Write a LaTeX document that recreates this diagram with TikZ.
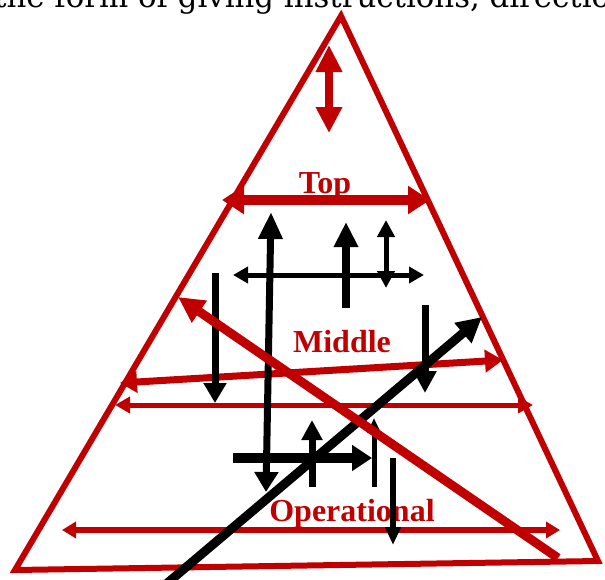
\documentclass[tikz,border=0pt]{standalone}
\usepackage{fontspec}
\newfontfamily\tnr{Liberation Serif}
\newfontfamily\hdrfont{DejaVu Serif}
\usetikzlibrary{arrows.meta}
\definecolor{pyr}{HTML}{C00000}
\tikzset{
  redline/.style={draw=pyr},
  blkline/.style={draw=black},
  lbl/.style={text=pyr, font=\tnr\bfseries\fontsize{32}{32}\selectfont, inner sep=0pt, anchor=base},
}
\newlength\hdrw
\begin{document}
\settowidth\hdrw{\hdrfont\fontsize{30}{30}\selectfont the form of giving instructions, directio}
\begin{tikzpicture}[x=1pt,y=-1pt]
\useasboundingbox (0,0) rectangle (605,579);
\clip (0,0) rectangle (605,579);
% header text
\pgfmathsetmacro\hs{616/\hdrw}
\node[anchor=base west, inner sep=0pt, scale=\hs, font=\hdrfont\fontsize{30}{30}\selectfont] (hdr) at (-6,7) {the form of giving instructions, directions};
% triangle
\coordinate (apex) at (341,16);
\coordinate (bl) at (15,570);
\coordinate (br) at (598,561);
\draw[redline, line width=6pt, line join=miter] (apex) -- (br) -- (bl) -- cycle;
% red arrows
\coordinate (r1a) at (329,45); \coordinate (r1b) at (329,133);
\draw[redline, line width=8pt, {Triangle[length=27pt,width=25pt]}-{Triangle[length=26pt,width=25pt]}] (r1a) -- (r1b);
\coordinate (r2a) at (222,200); \coordinate (r2b) at (430,200);
\draw[redline, line width=10pt, {Triangle[length=22pt,width=27pt]}-{Triangle[length=22pt,width=27pt]}] (r2a) -- (r2b);
\coordinate (r3a) at (120,383); \coordinate (r3b) at (503,360);
\draw[redline, line width=7pt, {Triangle[length=17pt,width=21pt]}-{Triangle[length=18pt,width=22pt]}] (r3a) -- (r3b);
\coordinate (r4a) at (115,405); \coordinate (r4b) at (533,405);
\draw[redline, line width=5pt, {Triangle[length=15pt,width=16pt]}-{Triangle[length=15pt,width=16pt]}] (r4a) -- (r4b);
\coordinate (r6a) at (62,530); \coordinate (r6b) at (560,530);
\draw[redline, line width=6pt, {Triangle[length=14pt,width=16pt]}-{Triangle[length=14pt,width=16pt]}] (r6a) -- (r6b);
% labels
\node[lbl] (top) at (325,193) {Top};
\node[lbl] (mid) at (342,352) {Middle};
\node[lbl] (ops) at (352,521) {Operational};
% black arrows
\coordinate (b1a) at (271,212); \coordinate (b1b) at (266,492);
\draw[blkline, line width=7pt, {Triangle[length=27pt,width=23pt]}-{Triangle[length=20pt,width=23pt]}] (b1a) -- (b1b);
\coordinate (b2a) at (233,275); \coordinate (b2b) at (424,275);
\draw[blkline, line width=5pt, {Triangle[length=15pt,width=16pt]}-{Triangle[length=15pt,width=16pt]}] (b2a) -- (b2b);
\coordinate (b3a) at (346,308); \coordinate (b3b) at (346,222);
\draw[blkline, line width=8pt, -{Triangle[length=25pt,width=23pt]}] (b3a) -- (b3b);
\coordinate (b4a) at (386,220); \coordinate (b4b) at (386,288);
\draw[blkline, line width=5pt, {Triangle[length=17pt,width=17pt]}-{Triangle[length=17pt,width=17pt]}] (b4a) -- (b4b);
\coordinate (b5a) at (215,273); \coordinate (b5b) at (215,403);
\draw[blkline, line width=7pt, -{Triangle[length=20pt,width=22pt]}] (b5a) -- (b5b);
\coordinate (b6a) at (425,305); \coordinate (b6b) at (425,393);
\draw[blkline, line width=7pt, -{Triangle[length=22pt,width=22pt]}] (b6a) -- (b6b);
\coordinate (b8a) at (233,458); \coordinate (b8b) at (372,458);
\draw[blkline, line width=10pt, -{Triangle[length=20pt,width=25pt]}] (b8a) -- (b8b);
\coordinate (b9a) at (312,487); \coordinate (b9b) at (312,420);
\draw[blkline, line width=7pt, -{Triangle[length=20pt,width=20pt]}] (b9a) -- (b9b);
\coordinate (b10a) at (374,487); \coordinate (b10b) at (374,418);
\draw[blkline, line width=5pt, -{Triangle[length=15pt,width=13pt]}] (b10a) -- (b10b);
\coordinate (b11a) at (393,458); \coordinate (b11b) at (393,545);
\draw[blkline, line width=6pt, -{Triangle[length=18pt,width=15pt]}] (b11a) -- (b11b);
\coordinate (b7a) at (165,585); \coordinate (b7b) at (482,317);
\draw[blkline, line width=9pt, -{Triangle[length=25pt,width=25pt]}] (b7a) -- (b7b);
% red diagonal
\coordinate (r5a) at (558,558); \coordinate (r5b) at (178,297);
\draw[redline, line width=9pt, -{Triangle[length=26pt,width=25pt]}] (r5a) -- (r5b);
\end{tikzpicture}
\end{document}
